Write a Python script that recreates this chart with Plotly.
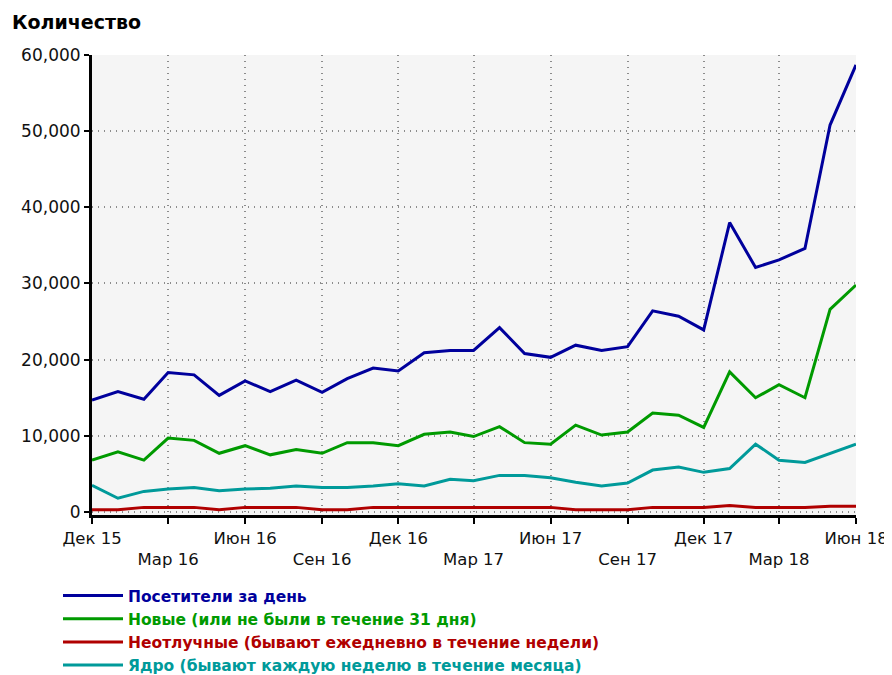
import plotly.graph_objects as go

months = ["2015-12-01", "2016-01-01", "2016-02-01", "2016-03-01", "2016-04-01", "2016-05-01",
          "2016-06-01", "2016-07-01", "2016-08-01", "2016-09-01", "2016-10-01", "2016-11-01",
          "2016-12-01", "2017-01-01", "2017-02-01", "2017-03-01", "2017-04-01", "2017-05-01",
          "2017-06-01", "2017-07-01", "2017-08-01", "2017-09-01", "2017-10-01", "2017-11-01",
          "2017-12-01", "2018-01-01", "2018-02-01", "2018-03-01", "2018-04-01", "2018-05-01",
          "2018-06-01"]

visitors = [14700, 15800, 14800, 18300, 18000, 15300, 17200, 15800, 17300, 15700, 17500, 18900,
            18500, 20900, 21200, 21200, 24200, 20800, 20300, 21900, 21200, 21700, 26400, 25700,
            23900, 38000, 32100, 33100, 34600, 50800, 58700]
new_users = [6800, 7900, 6800, 9700, 9400, 7700, 8700, 7500, 8200, 7700, 9100, 9100,
             8700, 10200, 10500, 9900, 11200, 9100, 8900, 11400, 10100, 10500, 13000, 12700,
             11100, 18400, 15000, 16700, 15000, 26600, 29800]
regulars = [300, 300, 600, 600, 600, 300, 600, 600, 600, 300, 300, 600,
            600, 600, 600, 600, 600, 600, 600, 300, 300, 300, 600, 600,
            600, 850, 600, 600, 600, 750, 750]
core = [3500, 1800, 2700, 3000, 3200, 2800, 3000, 3100, 3400, 3200, 3200, 3400,
        3700, 3400, 4300, 4100, 4800, 4800, 4500, 3900, 3400, 3800, 5500, 5900,
        5200, 5700, 8900, 6800, 6500, 7700, 8900]

tick_vals = ["2015-12-01", "2016-03-01", "2016-06-01", "2016-09-01", "2016-12-01", "2017-03-01",
             "2017-06-01", "2017-09-01", "2017-12-01", "2018-03-01", "2018-06-01"]
tick_text = ["Дек 15", "<br>Мар 16", "Июн 16", "<br>Сен 16", "Дек 16", "<br>Мар 17",
             "Июн 17", "<br>Сен 17", "Дек 17", "<br>Мар 18", "Июн 18"]
y_ticks = [0, 10000, 20000, 30000, 40000, 50000, 60000]

series = [
    ("Посетители за день", visitors, "#00009c"),
    ("Новые (или не были в течение 31 дня)", new_users, "#009a00"),
    ("Неотлучные (бывают ежедневно в течение недели)", regulars, "#b00000"),
    ("Ядро (бывают каждую неделю в течение месяца)", core, "#009a9a"),
]

FONT = "DejaVu Sans, Verdana, sans-serif"
W, H = 884, 667  # page body adds an 8px margin

fig = go.Figure()
for name, vals, col in series:
    fig.add_trace(go.Scatter(
        x=months, y=vals, mode="lines", line=dict(color=col, width=3),
        name=f"<span style='color:{col}'><b>{name}</b></span>",
    ))

fig.update_layout(
    width=W, height=H,
    margin=dict(l=84, r=36, t=47, b=160, autoexpand=False),
    paper_bgcolor="white", plot_bgcolor="#f5f5f5",
    font=dict(family=FONT, size=16, color="#111111"),
    title=dict(text="<b>Количество</b>", xref="container", yref="container",
               x=4 / W, xanchor="left", y=1 - 14 / H, yanchor="middle",
               font=dict(family=FONT, size=19, color="#000000")),
    showlegend=True,
    legend=dict(xref="container", yref="container",
                x=50 / W, xanchor="left", y=1 - 571 / H, yanchor="top",
                font=dict(family=FONT, size=15.5), tracegroupgap=0,
                itemwidth=60, bgcolor="rgba(0,0,0,0)"),
)
fig.update_xaxes(
    type="date", range=["2015-12-01", "2018-06-01"],
    tickmode="array", tickvals=tick_vals, ticktext=tick_text,
    showgrid=True, gridcolor="#8c8c8c", griddash="1px,5px", gridwidth=1.5,
    showline=True, linecolor="black", linewidth=3,
    ticks="outside", ticklen=6, tickwidth=2, tickcolor="black",
    tickfont=dict(family=FONT, size=16.5, color="#111111"),
    zeroline=False, automargin=False,
)
fig.update_yaxes(
    range=[-400, 60000], tickmode="array", tickvals=y_ticks, tickformat=",",
    showgrid=True, gridcolor="#8c8c8c", griddash="1px,5px", gridwidth=1.5,
    showline=True, linecolor="black", linewidth=3,
    ticks="outside", ticklen=5, tickwidth=2, tickcolor="black",
    tickfont=dict(family=FONT, size=17, color="#111111"),
    zeroline=False, automargin=False,
)
fig.write_html("out.html")
